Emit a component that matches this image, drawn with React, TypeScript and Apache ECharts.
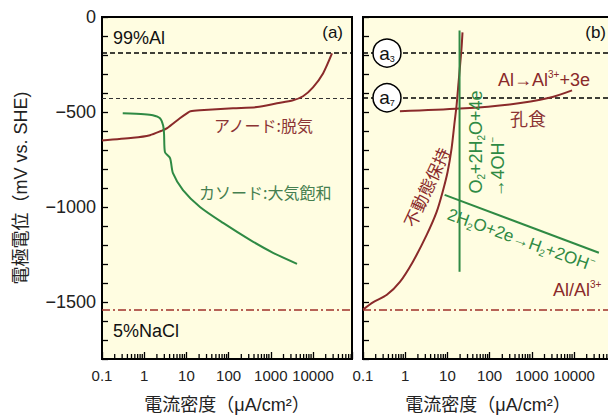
import React, { useEffect, useRef } from 'react';
import * as echarts from 'echarts';

// ---- axis ranges ----
const X_MIN = 0.1;
const X_MAX = 84000;
const Y_MIN = -1800;
const Y_MAX = 0;
const xDecades = [0.1, 1, 10, 100, 1000, 10000];
const yLabelStep = 500;

// ---- panel (a) ----
const anodeDeaerated: number[][] = [
  [0.1, -650], [0.54, -636], [1.37, -622], [2.5, -600], [3.5, -585], [7.0, -533],
  [10.9, -503], [12.5, -496], [21, -491], [127, -480], [471, -474], [1400, -454],
  [3360, -438], [5800, -417], [10000, -370], [17300, -297], [28200, -192],
];
const cathodeAerated: number[][] = [
  [0.31, -507], [1.0, -512], [1.6, -517], [2.37, -533], [2.8, -570], [2.95, -612],
  [3.1, -711], [4.1, -743], [4.8, -822], [8.3, -911], [21, -1000], [74, -1084],
  [321, -1173], [1130, -1241], [4180, -1299],
];

// ---- panel (b) ----
const passiveHold: number[][] = [
  [0.1, -1540], [0.172, -1502], [0.368, -1462], [0.75, -1394], [1.51, -1289],
  [3.23, -1147], [5.56, -1026], [7.7, -921], [10.1, -816], [12.6, -690],
  [14.8, -554], [16.5, -465], [18.4, -344], [21.6, -165], [22.8, -81],
];
const pittingAnodic: number[][] = [
  [0.75, -496], [20, -482], [300, -460], [2600, -425], [9000, -386],
];
const oxygenReduction: number[][] = [[19.4, -71], [19.4, -1341]];
const hydrogenEvolution: number[][] = [[8.6, -936], [38900, -1241]];

// ---- reference potentials ----
const potentialA3 = -190;
const potentialA7 = -425;
const potentialAlAl3 = -1540;
const circleMarks: [number, number, string][] = [[0.37, potentialA3, '3'], [0.37, potentialA7, '7']];

const RED = '#8a2a2a';
const GREEN = '#2f8a44';
const FONT = "'Liberation Sans', 'Noto Sans CJK JP', sans-serif";
const CJK = "'Noto Sans CJK JP', sans-serif";

const minorTickValues: number[] = [];
for (let k = -1; k <= 4; k++) {
  for (let m = 2; m <= 9; m++) {
    const v = m * Math.pow(10, k);
    if (v < X_MAX) minorTickValues.push(v);
  }
}

const fmtX = (v: number) => {
  const l = Math.log10(v);
  const d = Math.round(l);
  if (Math.abs(l - d) > 1e-6) return '';
  if (!xDecades.some((x) => Math.abs(Math.log10(x) - d) < 1e-6)) return '';
  return d < 0 ? v.toFixed(-d) : String(Math.round(v));
};
const fmtY = (v: number) => {
  if (v % yLabelStep !== 0) return '';
  return v === 0 ? '0' : '\u2212' + Math.abs(v);
};

const xAxisBase = (gridIndex: number) => ({
  type: 'log', gridIndex, min: X_MIN, max: X_MAX, logBase: 10,
  name: '電流密度（μA/cm²）', nameLocation: 'middle', nameGap: 37,
  nameTextStyle: { fontSize: 18, color: '#222', fontFamily: FONT },
  axisLine: { show: true, onZero: false, lineStyle: { color: '#000', width: 2 } },
  axisTick: { show: true, inside: true, length: 7, lineStyle: { color: '#000', width: 1.3 } },
  axisLabel: { show: true, margin: 9, fontSize: 15, color: '#222', fontFamily: FONT, formatter: fmtX },
  splitLine: { show: false },
});

const yAxisBase = (gridIndex: number, showLabels: boolean) => ({
  type: 'value', gridIndex, min: Y_MIN, max: Y_MAX, interval: 100,
  name: showLabels ? '電極電位（mV vs. SHE)' : '', nameLocation: 'middle', nameGap: 72, nameRotate: 90,
  nameTextStyle: { fontSize: 18, color: '#222', fontFamily: FONT },
  axisLine: { show: true, onZero: false, lineStyle: { color: '#000', width: 2 } },
  axisTick: { show: true, inside: true, length: 6, lineStyle: { color: '#000', width: 1.3 } },
  axisLabel: { show: showLabels, margin: 6, fontSize: 18, color: '#222', fontFamily: FONT, formatter: fmtY },
  splitLine: { show: false },
});

const lineSeries = (name: string, data: number[][], color: string, idx: number, extra: any = {}) => ({
  type: 'line', name, data, xAxisIndex: idx, yAxisIndex: idx, showSymbol: false, symbol: 'none',
  smooth: 0.25, lineStyle: { color, width: 2 }, z: 3, ...extra,
});

const refLines = (idx: number, heavySecond: boolean) => ({
  type: 'line', data: [], xAxisIndex: idx, yAxisIndex: idx, showSymbol: false,
  markLine: {
    silent: true, symbol: 'none', z: 2, animation: false,
    label: { show: false },
    data: [
      { yAxis: potentialA3, lineStyle: { color: '#000', width: 1.6, type: [5, 3] } },
      { yAxis: potentialA7, lineStyle: heavySecond ? { color: '#000', width: 1.6, type: [5, 3] } : { color: '#333', width: 1, type: [4, 3] } },
      { yAxis: potentialAlAl3, lineStyle: { color: '#a0302a', width: 1.5, type: [8, 3, 2, 3] } },
    ],
  },
});

const minorTicks = (idx: number) => ({
  type: 'custom', xAxisIndex: idx, yAxisIndex: idx, clip: false, z: 6,
  data: minorTickValues.map((v) => [v, Y_MIN]),
  encode: { x: 0, y: 1 },
  renderItem: (_p: any, api: any) => {
    const p = api.coord([api.value(0), api.value(1)]);
    return { type: 'line', shape: { x1: p[0], y1: p[1], x2: p[0], y2: p[1] - 5 }, style: { stroke: '#000', lineWidth: 1.3 } };
  },
});

const txt = (x: number, y: number, text: string, o: any = {}) => ({
  type: 'text', x, y, rotation: o.rotation || 0, z: 20,
  style: {
    text, fill: o.fill || '#111', fontSize: o.fontSize || 17, fontFamily: o.fontFamily || FONT,
    align: o.align || 'left', verticalAlign: 'middle', rich: o.rich,
  },
});

const richStyles = (size: number, fill: string) => ({
  n: { fontSize: size, lineHeight: size + 3, fill, fontFamily: FONT },
  b: { fontSize: Math.round(size * 0.58), lineHeight: Math.round(size * 0.7), fill, fontFamily: FONT, verticalAlign: 'bottom' },
  p: { fontSize: Math.round(size * 0.58), lineHeight: Math.round(size * 0.7), fill, fontFamily: FONT, verticalAlign: 'top' },
});

const option: any = {
  animation: false,
  backgroundColor: '#ffffff',
  grid: [
    { left: 102, top: 17, width: 250, height: 342, show: true, backgroundColor: '#FFFDE1', borderColor: '#000', borderWidth: 2, containLabel: false, outerBoundsMode: 'none' },
    { left: 363, top: 17, width: 250, height: 342, show: true, backgroundColor: '#FFFDE1', borderColor: '#000', borderWidth: 2, containLabel: false, outerBoundsMode: 'none' },
  ],
  xAxis: [xAxisBase(0), xAxisBase(1)],
  yAxis: [yAxisBase(0, true), yAxisBase(1, false)],
  series: [
    refLines(0, false),
    lineSeries('アノード:脱気', anodeDeaerated, RED, 0),
    lineSeries('カソード:大気飽和', cathodeAerated, GREEN, 0),
    minorTicks(0),
    refLines(1, true),
    lineSeries('不動態保持', passiveHold, RED, 1),
    lineSeries('孔食', pittingAnodic, RED, 1, { smooth: 0.3 }),
    lineSeries('O2還元', oxygenReduction, GREEN, 1, { smooth: false }),
    lineSeries('H2発生', hydrogenEvolution, GREEN, 1, { smooth: false }),
    minorTicks(1),
    {
      type: 'scatter', xAxisIndex: 1, yAxisIndex: 1, z: 10,
      data: circleMarks.map((c) => [c[0], c[1], c[2]]),
      symbol: 'circle', symbolSize: 28,
      itemStyle: { color: '#fff', borderColor: '#000', borderWidth: 1.5, opacity: 1 },
      label: {
        show: true, position: 'inside',
        formatter: (p: any) => `{a|a}{s|${p.data[2]}}`,
        rich: {
          a: { fontSize: 19, lineHeight: 20, color: '#111', fontFamily: FONT },
          s: { fontSize: 9, lineHeight: 12, color: '#111', fontFamily: FONT, verticalAlign: 'bottom' },
        },
      },
    },
  ],
  graphic: [
    txt(113, 38, '99%Al', { fontSize: 18 }),
    txt(113, 331, '5%NaCl', { fontSize: 18 }),
    txt(343, 32, '(a)', { fontSize: 17, align: 'right' }),
    txt(214, 125, 'アノード:脱気', { fontSize: 16, fill: '#8b3434', fontFamily: CJK }),
    txt(199, 192, 'カソード:大気飽和', { fontSize: 16, fill: '#457f50', fontFamily: CJK }),
    txt(606, 32, '(b)', { fontSize: 17, align: 'right' }),
    txt(498, 80, '{n|Al→Al}{p|3+}{n|+3e}', { rich: richStyles(18, RED) }),
    txt(510, 118, '孔食', { fontSize: 18, fill: '#8b3434', fontFamily: CJK }),
    txt(426, 187, '不動態保持', { fontSize: 17, fill: RED, fontFamily: CJK, align: 'center', rotation: 65 * Math.PI / 180 }),
    txt(476, 142, '{n|O}{b|2}{n|+2H}{b|2}{n|O+4e}', { align: 'center', rotation: Math.PI / 2, rich: richStyles(18, GREEN) }),
    txt(498, 167, '{n|→4OH}{p|−}', { align: 'center', rotation: Math.PI / 2, rich: richStyles(18, GREEN) }),
    txt(521, 240, '{n|2H}{b|2}{n|O+2e→H}{b|2}{n|+2OH}{p|−}', { align: 'center', rotation: -0.344, rich: richStyles(17, GREEN) }),
    txt(553, 290, '{n|Al/Al}{p|3+}', { rich: richStyles(18, RED) }),
  ],
};

export default function App() {
  const ref = useRef<HTMLDivElement>(null);
  useEffect(() => {
    document.body.style.margin = '0';
    const chart = echarts.init(ref.current as HTMLDivElement, null, { renderer: 'svg' });
    chart.setOption(option);
    return () => chart.dispose();
  }, []);
  return <div ref={ref} style={{ width: 608, height: 416 }} />;
}
